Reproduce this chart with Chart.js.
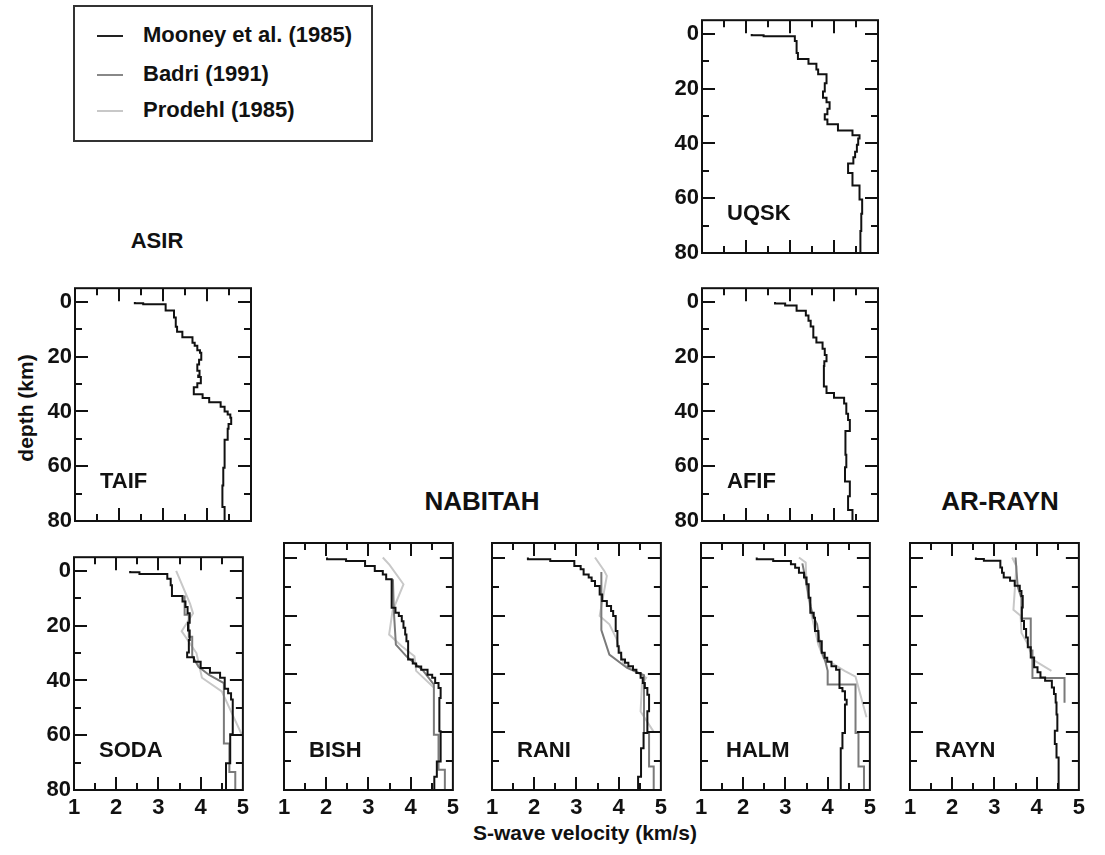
<!DOCTYPE html>
<html>
<head>
<meta charset="utf-8">
<script src="https://cdn.jsdelivr.net/npm/chart.js@4.4.0/dist/chart.umd.min.js"></script>
<style>
  body { margin: 0; background: #fff; width: 1105px; height: 855px; position: relative; overflow: hidden;
         font-family: "Liberation Sans", Arial, sans-serif; font-weight: bold; color: #111; }
  canvas { position: absolute; }
  .txt { position: absolute; white-space: nowrap; transform: translate(-50%, -50%); }
  .lbl { position: absolute; white-space: nowrap; font-size: 22px; transform: translateY(-50%); }
  #legend { position: absolute; left: 73px; top: 5px; width: 296px; height: 133px; border: 2px solid #333; }
  #legend div { position: absolute; left: 22px; font-size: 22px; transform: translateY(-50%); }
  #legend span { display: inline-block; width: 26px; height: 2px; vertical-align: middle; margin-right: 20px; }
</style>
</head>
<body>

<div id="legend">
  <div style="top:28px"><span style="background:#222"></span>Mooney et al. (1985)</div>
  <div style="top:67px"><span style="background:#888"></span>Badri (1991)</div>
  <div style="top:103px"><span style="background:#c8c8c8"></span>Prodehl (1985)</div>
</div>

<div class="txt" style="left:157px;top:241px;font-size:22px">ASIR</div>
<div class="txt" style="left:482px;top:501px;font-size:26px">NABITAH</div>
<div class="txt" style="left:1000px;top:501px;font-size:26px">AR-RAYN</div>
<div class="txt" style="left:26px;top:408px;font-size:21px;transform:translate(-50%,-50%) rotate(-90deg)">depth (km)</div>
<div class="txt" style="left:585px;top:833px;font-size:21px">S-wave velocity (km/s)</div>

<script>
// axis values
const velTicks = [1, 2, 3, 4, 5];
const depthTicks = [0, 20, 40, 60, 80];
const velMarks = [1.5, 2, 2.5, 3, 3.5, 4, 4.5];
const depthMarks = [0, 10, 20, 30, 40, 50, 60, 70];

// Mooney et al. (1985): layer tops (km) and S velocities (km/s)
const uqskZ = [0, 0.5, 0.9, 2.6, 7, 9.2, 10.9, 13, 14.7, 18, 21, 23.3, 25, 27.3, 29.3, 31.3, 33, 35.3, 37, 38.2, 40.5, 43, 45, 47.3, 50.8, 55.4, 60.5, 65.7, 72];
const uqskV = [2.13, 2.4, 3.11, 3.15, 3.18, 3.42, 3.6, 3.64, 3.83, 3.79, 3.75, 3.83, 3.9, 3.85, 3.79, 3.85, 4.09, 4.42, 4.58, 4.55, 4.52, 4.48, 4.44, 4.32, 4.42, 4.58, 4.64, 4.62, 4.6];

const taifZ = [0, 0.5, 0.9, 3.1, 5.7, 9.1, 10.9, 12.9, 14.9, 16, 17.7, 18.6, 21.1, 22.9, 25.1, 26.9, 27.4, 29.7, 31.2, 33.7, 35.1, 36.6, 38.3, 40, 41.1, 42.3, 44.6, 46.3, 50.3, 60.6, 67, 74.9];
const taifV = [2.36, 2.55, 3.06, 3.25, 3.29, 3.32, 3.44, 3.67, 3.72, 3.78, 3.84, 3.87, 3.82, 3.78, 3.83, 3.8, 3.86, 3.78, 3.7, 3.9, 4.05, 4.31, 4.4, 4.47, 4.53, 4.55, 4.49, 4.47, 4.4, 4.37, 4.35, 4.4];

const afifZ = [0, 0.6, 1.3, 3.2, 5, 6.9, 9, 13, 14.8, 17.1, 19.4, 21.7, 23.4, 30.9, 33.3, 35, 37.1, 40.8, 43.1, 47.1, 55.8, 60.4, 65.6, 71, 76];
const afifV = [2.66, 2.89, 3.15, 3.36, 3.42, 3.47, 3.53, 3.6, 3.74, 3.79, 3.83, 3.78, 3.77, 3.83, 4.0, 4.23, 4.28, 4.32, 4.36, 4.26, 4.28, 4.25, 4.36, 4.32, 4.42];

const sodaZ = [0, 0.5, 1.1, 2.9, 5.2, 9.2, 11.2, 13.2, 15.5, 18.9, 21.8, 25.2, 29.8, 31.5, 33.2, 35.5, 37.2, 39, 43, 44.7, 47, 59.6, 70.2];
const sodaV = [2.33, 2.55, 3.21, 3.29, 3.32, 3.57, 3.64, 3.69, 3.74, 3.7, 3.74, 3.72, 3.68, 3.84, 4.0, 4.22, 4.46, 4.57, 4.65, 4.72, 4.76, 4.7, 4.6];

const bishZ = [0, 0.6, 1.2, 2.9, 4.6, 5.8, 7.5, 17.3, 19, 20.1, 21.9, 24.2, 26.5, 28.8, 35.1, 36.5, 37.5, 38.6, 40.3, 41.4, 43.2, 44.9, 48.3, 59.8, 70.2, 75.4];
const bishV = [2.02, 2.47, 2.92, 3.15, 3.34, 3.42, 3.55, 3.64, 3.72, 3.79, 3.83, 3.87, 3.9, 3.94, 4.05, 4.13, 4.25, 4.4, 4.51, 4.58, 4.66, 4.71, 4.68, 4.71, 4.62, 4.56];

const raniZ = [0, 0.6, 1.2, 2.9, 4, 5.8, 6.9, 8.1, 9.8, 12.7, 15, 16.7, 18.4, 20.1, 25.3, 30.5, 32.8, 35.1, 36.2, 37.4, 38.6, 39.7, 41.4, 43.2, 44.9, 47.2, 52.9, 60.4, 65.6, 75.4];
const raniV = [1.85, 2.38, 2.95, 3.1, 3.17, 3.29, 3.36, 3.44, 3.55, 3.61, 3.72, 3.82, 3.87, 3.93, 3.97, 4.0, 4.06, 4.15, 4.23, 4.34, 4.42, 4.52, 4.57, 4.62, 4.68, 4.72, 4.68, 4.59, 4.53, 4.46];

const halmZ = [0, 0.6, 1.2, 2.3, 3.5, 5.2, 6.9, 9.2, 13.8, 19, 20.7, 25.3, 28.8, 32.8, 34.5, 35.9, 37.4, 38.6, 44.9, 46, 48.9, 50.6, 60.4, 65.6];
const halmV = [2.32, 2.71, 3.13, 3.23, 3.32, 3.44, 3.5, 3.55, 3.59, 3.67, 3.7, 3.78, 3.86, 3.93, 3.99, 4.09, 4.2, 4.28, 4.35, 4.41, 4.45, 4.41, 4.35, 4.31];

const raynZ = [0, 0.5, 1.1, 3.4, 5.2, 6.9, 8, 9.7, 11.5, 13.2, 17.2, 21.8, 24.6, 27.5, 30.9, 34.4, 37.8, 39.5, 41.3, 42.4, 44.7, 47, 49.9, 54, 59.6, 64.2, 68.8];
const raynV = [2.56, 2.75, 3.14, 3.18, 3.22, 3.37, 3.48, 3.6, 3.64, 3.67, 3.65, 3.7, 3.75, 3.79, 3.86, 3.94, 4.02, 4.09, 4.2, 4.36, 4.41, 4.45, 4.47, 4.49, 4.43, 4.47, 4.52];

// Badri (1991): profile vertices
const sodaBadriV = [3.62, 3.62, 3.72, 3.72, 3.8, 3.8, 3.95, 4.2, 4.55, 4.55, 4.68, 4.68, 4.82, 4.82];
const sodaBadriZ = [9, 16, 16, 24, 24, 31, 35, 38, 41, 63, 63, 73.4, 73.4, 80];
const bishBadriV = [3.58, 3.6, 3.65, 3.9, 4.3, 4.55, 4.55, 4.66, 4.66, 4.81, 4.81];
const bishBadriZ = [7.5, 18, 30, 34, 39, 43.7, 61, 61, 73, 73, 80];
const raniBadriV = [3.59, 3.59, 3.78, 4.2, 4.6, 4.6, 4.72, 4.72, 4.83, 4.83];
const raniBadriZ = [5, 25, 33.4, 38, 40.5, 60.4, 60.4, 71.9, 71.9, 80];
const halmBadriV = [3.4, 3.5, 3.6, 3.65, 3.75, 3.8, 3.85, 3.95, 4.0, 4.0, 4.66, 4.66, 4.73, 4.73, 4.86, 4.86];
const halmBadriZ = [2, 9, 17, 20, 23, 28, 32, 36, 39, 43.7, 43.7, 60.4, 60.4, 71.9, 71.9, 80];
const raynBadriV = [3.5, 3.55, 3.64, 3.64, 3.86, 3.86, 3.9, 3.9, 4.66, 4.66];
const raynBadriZ = [0, 10, 14, 21, 21, 32, 32, 41.5, 41.5, 50];

// Prodehl (1985): profile vertices
const sodaProdV = [3.42, 3.75, 3.82, 3.55, 3.9, 4.03, 4.5, 4.98];
const sodaProdZ = [0, 12, 15.5, 22, 30, 39, 44, 60];
const bishProdV = [3.34, 3.5, 3.83, 3.57, 3.49, 3.79, 4.09, 4.13, 4.56];
const bishProdZ = [0, 2.5, 9.2, 18.4, 26.5, 30.5, 34, 39, 44.9];
const raniProdV = [3.44, 3.66, 3.72, 3.55, 3.78, 3.95, 4.12, 4.65, 4.55, 4.52, 4.83];
const raniProdZ = [0, 4.6, 6.3, 20.1, 23, 28, 36.8, 41.4, 43.7, 53, 60];
const halmProdV = [3.32, 3.48, 3.5, 3.62, 3.78, 3.9, 4.4, 4.66, 4.92];
const halmProdZ = [0, 1.7, 10, 20, 30, 34.5, 39, 41, 55];
const raynProdV = [3.42, 3.52, 3.45, 3.62, 3.64, 3.8, 3.9, 4.35];
const raynProdZ = [0, 3, 18, 20, 26, 30, 35, 39];

const AXW = 60, AXH = 34, PW = 176, PH = 247;

function layers(z, v) {
  const pts = z.map((d, i) => ({ x: v[i], y: d }));
  pts.push({ x: v[v.length - 1], y: 80 });
  return pts;
}
function path(v, z) {
  return v.map((s, i) => ({ x: s, y: z[i] }));
}

// box plus inward tick marks on all four sides
const frame = {
  id: 'frame',
  afterDraw(chart) {
    const { ctx, chartArea: a, scales: { x, y } } = chart;
    ctx.save();
    ctx.strokeStyle = '#111';
    ctx.lineWidth = 2;
    ctx.strokeRect(a.left, a.top, a.right - a.left, a.bottom - a.top);
    ctx.beginPath();
    depthMarks.forEach(d => {
      const py = Math.round(y.getPixelForValue(d));
      const len = d % 20 === 0 ? 13 : 7;
      ctx.moveTo(a.left, py); ctx.lineTo(a.left + len, py);
      ctx.moveTo(a.right, py); ctx.lineTo(a.right - len, py);
    });
    velMarks.forEach(s => {
      const px = Math.round(x.getPixelForValue(s));
      const len = s % 1 === 0 ? 13 : 7;
      ctx.moveTo(px, a.top); ctx.lineTo(px, a.top + len);
      ctx.moveTo(px, a.bottom); ctx.lineTo(px, a.bottom - len);
    });
    ctx.stroke();
    ctx.restore();
  }
};

function makePanel(p) {
  const canvas = document.createElement('canvas');
  canvas.width = AXW + PW + 4;
  canvas.height = PH + AXH + 2;
  canvas.style.left = (p.left - AXW) + 'px';
  canvas.style.top = (p.top - 2) + 'px';
  document.body.appendChild(canvas);

  const datasets = [
    { data: layers(p.z, p.v), borderColor: '#111', stepped: 'after' }
  ];
  if (p.badri) datasets.push({ data: p.badri, borderColor: '#7a7a7a' });
  if (p.prod) datasets.push({ data: p.prod, borderColor: '#c8c8c8' });
  datasets.forEach(d => Object.assign(d, { showLine: true, pointRadius: 0, borderWidth: 2, fill: false }));

  const tickFont = { family: '"Liberation Sans", Arial, sans-serif', size: 22, weight: 'bold' };
  new Chart(canvas, {
    type: 'scatter',
    data: { datasets },
    options: {
      responsive: false,
      animation: false,
      devicePixelRatio: 1,
      layout: { padding: { top: 2, right: 4, left: 0, bottom: 0 } },
      plugins: { legend: { display: false }, tooltip: { enabled: false } },
      scales: {
        x: {
          type: 'linear', min: 1, max: 5,
          afterBuildTicks: s => { s.ticks = velTicks.map(v => ({ value: v })); },
          afterFit: s => { s.height = AXH; },
          grid: { display: false, drawTicks: false }, border: { display: false },
          ticks: { display: p.xLab, font: tickFont, color: '#111', padding: 5, maxRotation: 0 }
        },
        y: {
          type: 'linear', min: -5, max: 80, reverse: true,
          afterBuildTicks: s => { s.ticks = depthTicks.map(v => ({ value: v })); },
          afterFit: s => { s.width = AXW; },
          grid: { display: false, drawTicks: false }, border: { display: false },
          ticks: { display: p.yLab, font: tickFont, color: '#111', padding: 3 }
        }
      }
    },
    plugins: [frame]
  });

  const lbl = document.createElement('div');
  lbl.className = 'lbl';
  lbl.textContent = p.name;
  lbl.style.left = (p.left + 25) + 'px';
  lbl.style.top = (p.top + 207) + 'px';
  document.body.appendChild(lbl);
}

const panels = [
  { name: 'UQSK', left: 702, top: 6, z: uqskZ, v: uqskV, yLab: true, xLab: false },
  { name: 'TAIF', left: 75, top: 274, z: taifZ, v: taifV, yLab: true, xLab: false },
  { name: 'AFIF', left: 702, top: 274, z: afifZ, v: afifV, yLab: true, xLab: false },
  { name: 'SODA', left: 74, top: 543, z: sodaZ, v: sodaV, yLab: true, xLab: true,
    badri: path(sodaBadriV, sodaBadriZ), prod: path(sodaProdV, sodaProdZ) },
  { name: 'BISH', left: 284, top: 543, z: bishZ, v: bishV, yLab: false, xLab: true,
    badri: path(bishBadriV, bishBadriZ), prod: path(bishProdV, bishProdZ) },
  { name: 'RANI', left: 492, top: 543, z: raniZ, v: raniV, yLab: false, xLab: true,
    badri: path(raniBadriV, raniBadriZ), prod: path(raniProdV, raniProdZ) },
  { name: 'HALM', left: 701, top: 543, z: halmZ, v: halmV, yLab: false, xLab: true,
    badri: path(halmBadriV, halmBadriZ), prod: path(halmProdV, halmProdZ) },
  { name: 'RAYN', left: 910, top: 543, z: raynZ, v: raynV, yLab: false, xLab: true,
    badri: path(raynBadriV, raynBadriZ), prod: path(raynProdV, raynProdZ) }
];

panels.forEach(makePanel);
</script>
</body>
</html>
